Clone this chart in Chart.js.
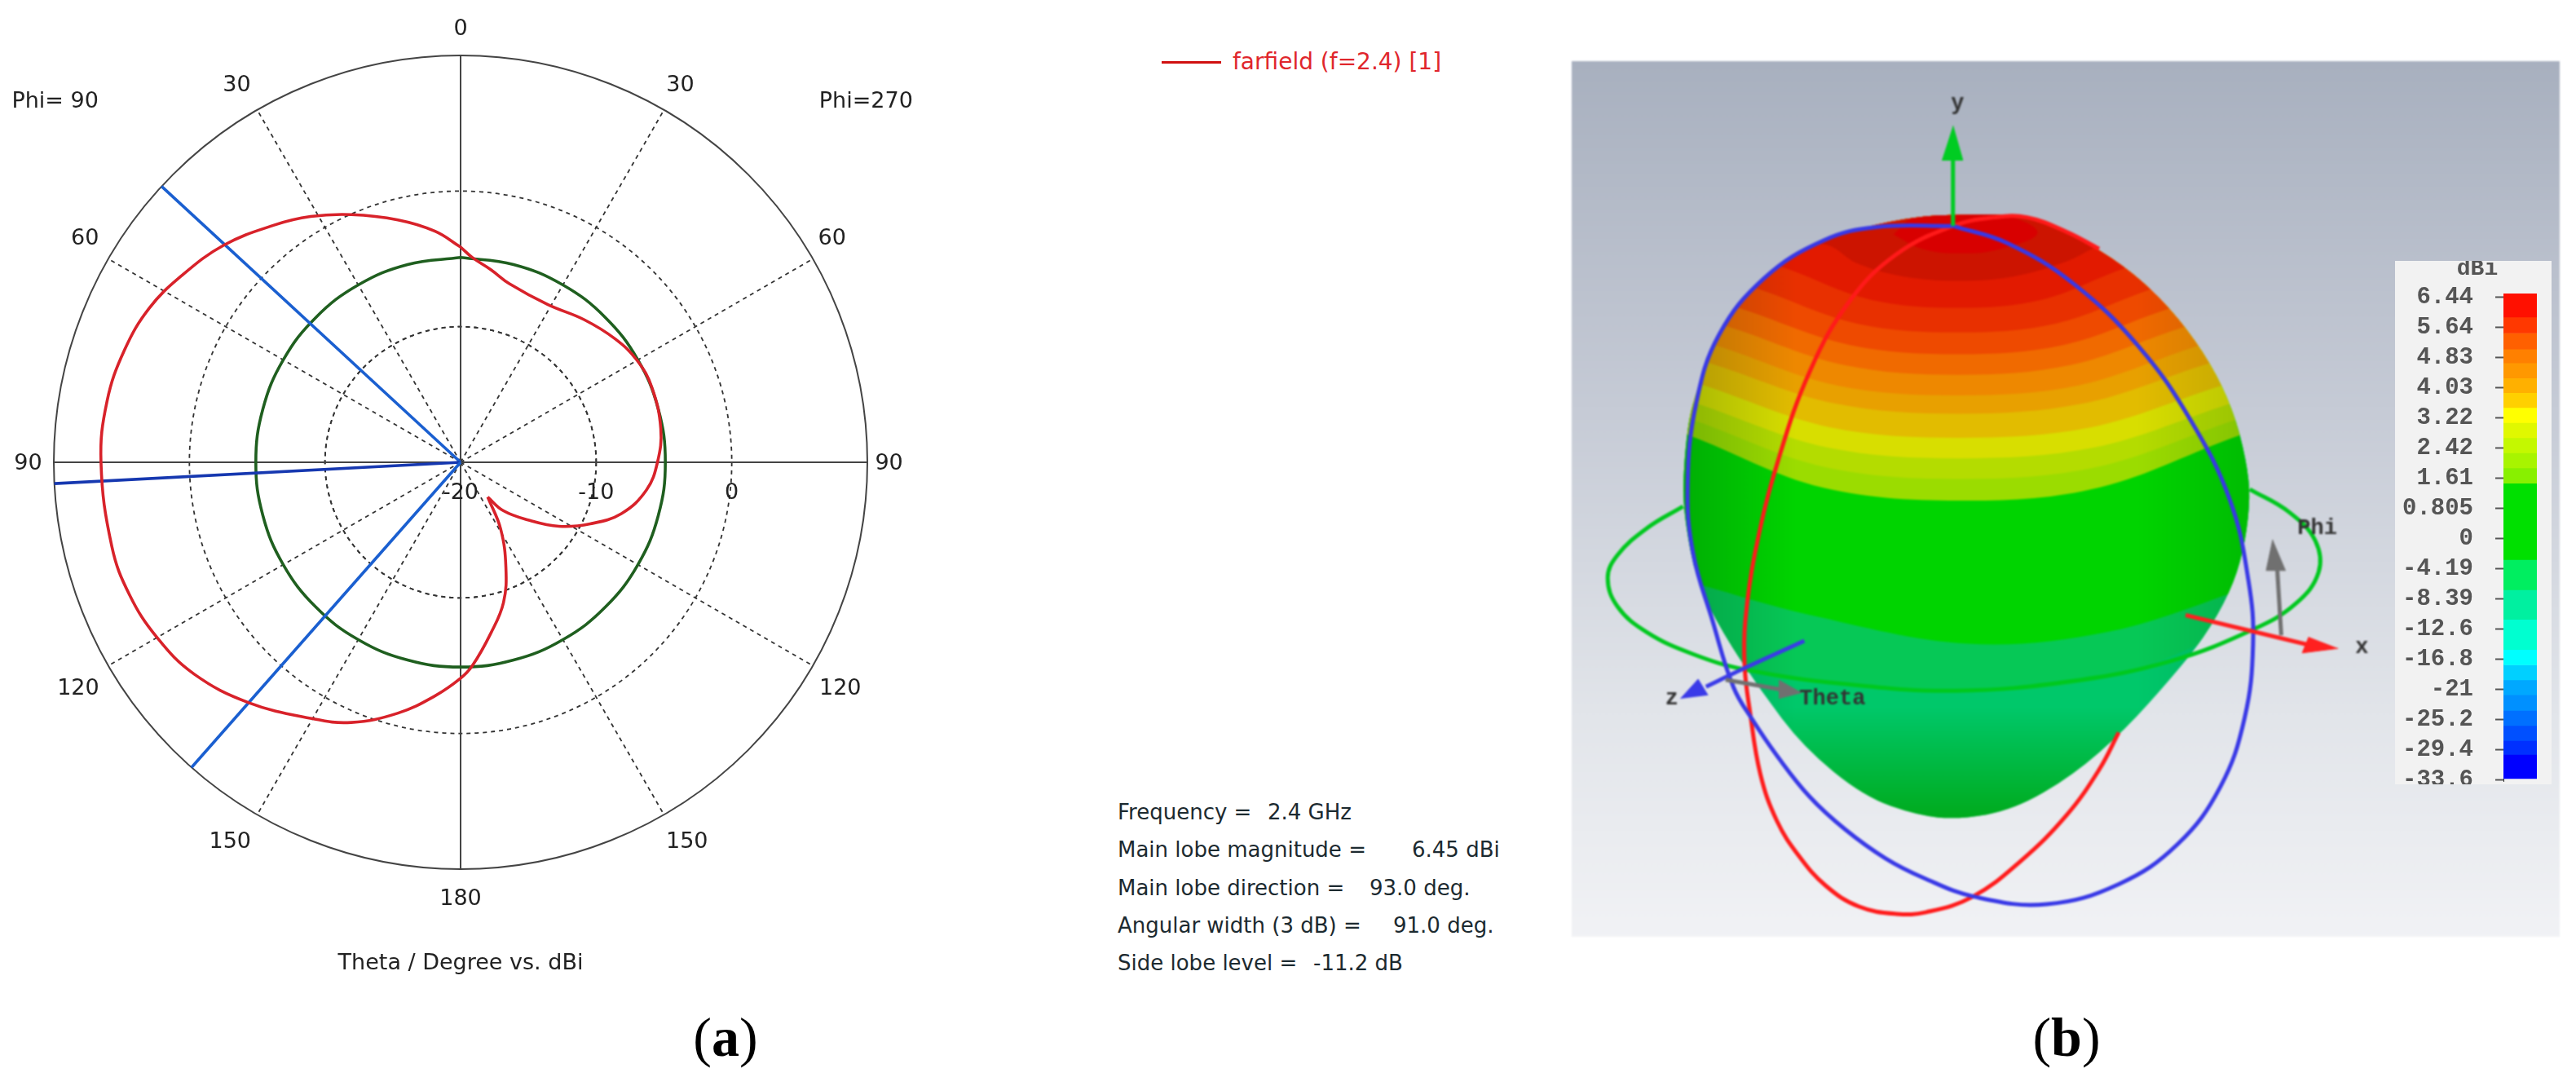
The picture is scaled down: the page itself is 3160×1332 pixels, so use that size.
<!DOCTYPE html>
<html>
<head>
<meta charset="utf-8">
<title>farfield</title>
<script src="https://cdn.jsdelivr.net/npm/chart.js@4/dist/chart.umd.min.js"></script>
<style>
  html, body { margin: 0; background: #fff; width: 3160px; height: 1332px; overflow: hidden; }
  canvas { position: absolute; }
  #polar { left: 0; top: 0; }
  #lobe { left: 1928px; top: 75px; filter: blur(0.8px);
    background: linear-gradient(#a8b0bf 0%, #c6cbd6 40%, #e2e5ea 75%, #f1f2f5 100%); }
  #bar { left: 2938px; top: 320px; background: #f2f2f2; filter: blur(0.6px); }
  .t { position: absolute; white-space: pre; font: 26px "DejaVu Sans", sans-serif; color: #1c2a30; line-height: 1; }
  .legend { font-size: 28px; }
  .cap { position: absolute; font: 68px "Liberation Serif", serif; color: #000; line-height: 1; transform: translate(-50%, -50%); }
  #legendLine { position: absolute; left: 1425px; top: 75px; width: 73px; height: 3px; background: #d01010; }
</style>
</head>
<body>
<canvas id="polar" width="1240" height="1332"></canvas>
<canvas id="lobe" width="1212" height="1074"></canvas>
<canvas id="bar" width="192" height="642"></canvas>
<div id="legendLine"></div>
<div id="notes"></div>
<script>
/* Farfield cut (a) and 3D pattern (b). */

// (a) polar cut: theta in degrees, 0 at top, going through 90 on the left
const farfieldTheta = [0, 6.3, 14.5, 23.8, 31.4, 38.2, 47.5, 56.4, 63.7, 71.5, 80.2, 90, 103.6, 111.8, 120, 128.5, 138.6, 149.6, 157.2, 166, 173.8, 180, 183.3, 190, 197, 203.3, 211, 218, 221.4, 229.5, 237, 244.6, 252.3, 261.5, 270, 279.5, 291.4, 300, 308.5, 319, 331, 344.7, 351, 356.7, 360];
const farfieldGain = [-4.13, -2.86, -1.54, -0.04, 1.23, 2.25, 3.69, 4.77, 5.62, 6.13, 6.46, 6.52, 6.46, 6.3, 5.85, 5.1, 3.63, 1.89, 0.81, -0.94, -2.68, -4.07, -4.97, -7.19, -9.18, -11.55, -14.26, -16.75, -15.25, -13.45, -11.34, -9.42, -7.55, -6.14, -5.48, -5.03, -4.85, -4.97, -5.41, -6.08, -6.71, -6.35, -5.63, -4.88, -4.13];
const cuspIndex = 27;
const contourTheta = [0, 15, 30, 45, 60, 75, 90, 105, 120, 135, 150, 165, 180, 195, 210, 225, 240, 255, 270, 285, 300, 315, 330, 345, 360];
const contourGain = -4.9;
const beamTheta = [47.3, 93, 138.6];
const gainMin = -20;
const gainMax = 10;
const ringLevels = [-10, 0];
const ringLabels = ['-20', '-10', '0'];
const spokeTheta = [30, 60, 120, 150, 210, 240, 300, 330];
const axisTheta = [0, 90, 180, 270];
const angleLabels = ['0', '30', '60', '90', '120', '150', '180', '150', '120', '90', '60', '30'];
const angleLabelX = [0, -16.5, -27.7, -31.9, -28.2, -17, 0, 16.7, 28, 31.6, 27.4, 16.2];
const angleLabelY = [31.9, 27.8, 16.5, -0.1, -16.7, -28, -32.2, -28, -16.7, -0.1, 16.5, 27.8];

// legend and result block
const legendText = 'farfield (f=2.4) [1]';
const statNames = ['Frequency =', 'Main lobe magnitude =', 'Main lobe direction =', 'Angular width (3 dB) =', 'Side lobe level ='];
const statValues = ['2.4 GHz', '6.45 dBi', '93.0 deg.', '91.0 deg.', '-11.2 dB'];

// (b) lobe drawing, in units of the panel picture
const lobeOutline = [[620, 290], [720, 290], [790, 320], [860, 365], [920, 420], [975, 490], [1020, 570], [1050, 650], [1068, 740], [1070, 800], [1060, 880], [1040, 950], [1000, 1030], [950, 1100], [880, 1190], [800, 1270], [710, 1330], [626, 1347], [563, 1340], [481, 1307], [389, 1221], [323, 1121], [265, 1020], [225, 930], [207, 820], [205, 750], [212, 660], [222, 610], [256, 500], [320, 400], [400, 342], [480, 312], [560, 294], [620, 290]];
const bandColors = ['#00c86a', '#06c856', '#00d400', '#9bdc00', '#b4dc00', '#d8de00', '#e2bc00', '#e8a000', '#ee8800', '#f06a00', '#ee4a00', '#e83000', '#e21a00', '#cc1400'];
const bandEdges = [
  [[100, 1500], [1400, 1500]],
  [[240, 1060], [300, 1085], [450, 1110], [640, 1125], [850, 1100], [985, 1045], [1050, 1000]],
  [[190, 925], [225, 935], [400, 990], [640, 1040], [850, 1020], [1045, 950], [1100, 920]],
  [[170, 665], [212, 675], [418, 767], [640, 790], [840, 767], [1056, 675], [1100, 665]],
  [[180, 638], [218, 648], [421, 731], [630, 752], [837, 731], [1050, 648], [1090, 638]],
  [[190, 610], [225, 620], [425, 697], [625, 716], [833, 697], [1042, 620], [1080, 610]],
  [[200, 578], [235, 588], [430, 662], [625, 680], [827, 662], [1030, 588], [1070, 578]],
  [[210, 540], [247, 550], [436, 620], [625, 638], [816, 620], [1008, 550], [1050, 540]],
  [[220, 510], [258, 520], [441, 589], [625, 606], [807, 589], [990, 520], [1030, 510]],
  [[240, 477], [277, 487], [451, 553], [625, 570], [796, 553], [968, 487], [1010, 477]],
  [[260, 445], [295, 455], [460, 518], [625, 534], [785, 518], [945, 455], [985, 445]],
  [[285, 410], [320, 420], [472, 481], [625, 496], [772, 481], [920, 420], [960, 410]],
  [[325, 373], [360, 383], [492, 439], [625, 453], [752, 439], [880, 383], [920, 373]],
  [[400, 340], [430, 345], [470, 375], [540, 398], [625, 406], [710, 398], [790, 372], [840, 345], [870, 340]],
];
const lobeCap = [[526, 325], [570, 350], [630, 358], [690, 350], [746, 322], [700, 292], [620, 280], [560, 292], [526, 325]];
const blueOrbit = [[617, 310], [700, 340], [800, 410], [900, 520], [980, 650], [1040, 790], [1068, 930], [1075, 1040], [1062, 1170], [1025, 1290], [960, 1390], [870, 1460], [760, 1495], [650, 1482], [572, 1449], [514, 1415], [452, 1364], [398, 1307], [348, 1235], [311, 1173], [282, 1116], [250, 1000], [220, 880], [212, 760], [225, 620], [260, 500], [330, 400], [420, 335], [500, 312], [617, 310]];
const redOrbit = [[840, 350], [790, 320], [730, 295], [680, 295], [617, 310], [530, 360], [460, 440], [400, 560], [350, 720], [315, 880], [300, 1000], [299, 1080], [307, 1158], [323, 1268], [348, 1349], [382, 1411], [423, 1463], [473, 1499], [531, 1512], [576, 1509], [647, 1482], [720, 1420], [790, 1340], [840, 1260], [870, 1195]];
const greenOrbit = [[205, 800], [150, 838], [105, 885], [90, 925], [105, 975], [150, 1020], [220, 1058], [300, 1085], [450, 1110], [620, 1122], [800, 1105], [950, 1070], [1075, 1015], [1140, 970], [1175, 915], [1170, 860], [1130, 810], [1070, 770]];
const axisLines = [
  { color: '#00cc22', pts: [[617, 310], [617, 190]] },
  { color: '#ff2020', pts: [[972, 990], [1160, 1042]] },
  { color: '#3a3ae8', pts: [[390, 1035], [300, 1082], [240, 1115]] },
  { color: '#707070', pts: [[270, 1103], [355, 1120]] },
  { color: '#707070', pts: [[1118, 1025], [1112, 912]] },
];
const axisHeads = [
  { color: '#00cc22', pts: [[617, 135], [632, 195], [600, 195]] },
  { color: '#ff2020', pts: [[1205, 1048], [1150, 1056], [1160, 1028]] },
  { color: '#3a3ae8', pts: [[201, 1136], [228, 1102], [243, 1130]] },
  { color: '#707070', pts: [[386, 1126], [352, 1104], [352, 1136]] },
  { color: '#707070', pts: [[1105, 858], [1095, 912], [1125, 912]] },
];
const panelLabels = [['y', 624, 97], ['x', 1241, 1047], ['z', 188, 1137], ['Theta', 433, 1137], ['Phi', 1173, 838]];

// colour bar
const barTicks = ['6.44', '5.64', '4.83', '4.03', '3.22', '2.42', '1.61', '0.805', '0', '-4.19', '-8.39', '-12.6', '-16.8', '-21', '-25.2', '-29.4', '-33.6'];
const barEdges = [-0.12, 0.66, 1.19, 1.72, 2.18, 2.68, 3.17, 3.66, 4.16, 4.66, 5.16, 5.66, 6.17, 8.70, 9.70, 10.68, 11.68, 12.19, 12.69, 13.18, 13.70, 14.2, 14.7, 15.16, 15.96];
const barColors = ['#ff1000', '#ff3800', '#ff6000', '#ff8000', '#ff9800', '#ffb000', '#ffd000', '#ffff00', '#e0f800', '#c4f800', '#a8f400', '#88f000', '#00e000', '#00ee60', '#00f0a0', '#00ffd0', '#00ffff', '#00d0ff', '#00a8ff', '#0090ff', '#0070ff', '#0050ff', '#0030ff', '#0000ff'];

Chart.defaults.animation = false;
Chart.defaults.responsive = false;
Chart.defaults.devicePixelRatio = 1;
Chart.defaults.plugins.legend.display = false;
Chart.defaults.plugins.tooltip.enabled = false;

const rad = (d) => d * Math.PI / 180;
// gain at theta -> cartesian point, the radial scale starts at gainMin
const toXY = (theta, gain) => ({
  x: -(gain - gainMin) * Math.sin(rad(theta)),
  y: (gain - gainMin) * Math.cos(rad(theta)),
});
const polyline = (pts) => pts.map(([x, y]) => ({ x, y }));

const outerR = gainMax - gainMin;

const polarGrid = {
  id: 'polarGrid',
  beforeDatasetsDraw(chart) {
    const { ctx, scales: { x, y } } = chart;
    const cx = x.getPixelForValue(0);
    const cy = y.getPixelForValue(0);
    const px = (v) => Math.abs(x.getPixelForValue(v) - cx);
    ctx.save();
    ctx.strokeStyle = '#333';
    ctx.lineWidth = 1.8;
    ctx.setLineDash([5, 5]);
    ringLevels.concat(gainMin + 10).forEach((lv) => {
      ctx.beginPath();
      ctx.arc(cx, cy, px(lv - gainMin), 0, Math.PI * 2);
      ctx.stroke();
    });
    spokeTheta.forEach((t) => {
      const p = toXY(t, gainMax);
      ctx.beginPath();
      ctx.moveTo(cx, cy);
      ctx.lineTo(x.getPixelForValue(p.x), y.getPixelForValue(p.y));
      ctx.stroke();
    });
    ctx.setLineDash([]);
    ctx.strokeStyle = '#444';
    ctx.lineWidth = 2;
    ctx.beginPath();
    ctx.arc(cx, cy, px(outerR), 0, Math.PI * 2);
    ctx.stroke();
    axisTheta.forEach((t) => {
      const p = toXY(t, gainMax);
      ctx.beginPath();
      ctx.moveTo(cx, cy);
      ctx.lineTo(x.getPixelForValue(p.x), y.getPixelForValue(p.y));
      ctx.stroke();
    });
    ctx.restore();
  },
  afterDatasetsDraw(chart) {
    const { ctx, scales: { x, y } } = chart;
    const text = (s, dx, dy) => ctx.fillText(s, x.getPixelForValue(dx), y.getPixelForValue(dy));
    ctx.save();
    ctx.fillStyle = '#222';
    ctx.font = '27px "DejaVu Sans", sans-serif';
    ctx.textAlign = 'center';
    ctx.textBaseline = 'middle';
    angleLabels.forEach((s, i) => text(s, angleLabelX[i], angleLabelY[i]));
    ringLabels.forEach((s, i) => text(s, i * 10, -2.3));
    text('Phi= 90', -29.9, 26.6);
    text('Phi=270', 29.9, 26.6);
    text('Theta / Degree vs. dBi', 0, -37);
    ctx.restore();
  },
};

const farfieldXY = farfieldTheta.map((t, i) => toXY(t, farfieldGain[i]));

new Chart(document.getElementById('polar'), {
  type: 'scatter',
  data: {
    datasets: [
      { data: contourTheta.map((t) => toXY(t, contourGain)), borderColor: '#1f5f1f', tension: 0.4 },
      ...beamTheta.map((t, i) => ({
        data: [toXY(t, gainMin), toXY(t, gainMax)],
        borderColor: i === 1 ? '#1638b0' : '#1a5fd0',
      })),
      { data: farfieldXY.slice(0, cuspIndex + 1), borderColor: '#d8222a', tension: 0.4 },
      { data: farfieldXY.slice(cuspIndex), borderColor: '#d8222a', tension: 0.4 },
    ].map((d, i, all) => ({ ...d, showLine: true, pointRadius: 0, borderWidth: 3.6, order: all.length - i, clip: false })),
  },
  options: {
    layout: { padding: { left: 66, top: 68, right: 176, bottom: 266 } },
    scales: {
      x: { display: false, min: -30, max: 30 },
      y: { display: false, min: -30, max: 30 },
    },
  },
  plugins: [polarGrid],
});

// dark edge of the lobe, left and right then towards the tip
function shadeColor(horizontal) {
  return (c) => {
    const { ctx, scales: { x, y } } = c.chart;
    const a = horizontal ? x.getPixelForValue(205) : y.getPixelForValue(1150);
    const b = horizontal ? x.getPixelForValue(1070) : y.getPixelForValue(1348);
    if (!isFinite(a) || !isFinite(b)) return 'rgba(0,0,0,0)';
    const g = horizontal ? ctx.createLinearGradient(a, 0, b, 0) : ctx.createLinearGradient(0, a, 0, b);
    if (horizontal) {
      g.addColorStop(0, 'rgba(0,40,20,0.22)');
      g.addColorStop(0.2, 'rgba(0,40,20,0)');
      g.addColorStop(0.8, 'rgba(0,40,20,0)');
      g.addColorStop(1, 'rgba(0,40,20,0.14)');
    } else {
      g.addColorStop(0, 'rgba(0,160,0,0)');
      g.addColorStop(1, 'rgba(0,160,0,0.75)');
    }
    return g;
  };
}

// the bands only show inside the lobe outline, the orbits do not
const lobeDatasets = [
  ...bandEdges.map((edge, i) => ({
    data: polyline([...edge, [1540, 24], [38, 24]]),
    backgroundColor: bandColors[i], fill: 'shape', borderWidth: 0, tension: 0.35,
  })),
  { data: polyline(lobeCap), backgroundColor: '#d80000', fill: 'shape', borderWidth: 0, tension: 0.4 },
  { data: polyline([[100, 24], [1400, 24], [1400, 1500], [100, 1500]]), fill: 'shape', borderWidth: 0, backgroundColor: shadeColor(false) },
  { data: polyline([[100, 24], [1400, 24], [1400, 1500], [100, 1500]]), fill: 'shape', borderWidth: 0, backgroundColor: shadeColor(true) },
];
const wireStart = lobeDatasets.length;
const wireDatasets = [
  { data: polyline(greenOrbit), borderColor: '#00c81e', borderWidth: 5, tension: 0.4 },
  { data: polyline(redOrbit), borderColor: '#ff1a1a', borderWidth: 5, tension: 0.4 },
  { data: polyline(blueOrbit), borderColor: '#3838e6', borderWidth: 5, tension: 0.4 },
  ...axisLines.map((a) => ({ data: polyline(a.pts), borderColor: a.color, borderWidth: 5, tension: 0.3 })),
  ...axisHeads.map((a) => ({ data: polyline(a.pts), borderColor: a.color, borderWidth: 1, backgroundColor: a.color, fill: 'shape' })),
];

const lobeClip = {
  id: 'lobeClip',
  beforeDatasetsDraw(chart) {
    const { ctx, scales: { x, y } } = chart;
    const p = lobeOutline.map(([a, b]) => [x.getPixelForValue(a), y.getPixelForValue(b)]);
    ctx.save();
    ctx.beginPath();
    ctx.moveTo((p[0][0] + p[1][0]) / 2, (p[0][1] + p[1][1]) / 2);
    for (let i = 1; i < p.length - 1; i++) {
      ctx.quadraticCurveTo(p[i][0], p[i][1], (p[i][0] + p[i + 1][0]) / 2, (p[i][1] + p[i + 1][1]) / 2);
    }
    ctx.quadraticCurveTo(p[0][0], p[0][1], (p[0][0] + p[1][0]) / 2, (p[0][1] + p[1][1]) / 2);
    ctx.clip();
  },
  beforeDatasetDraw(chart, args) {
    if (args.index === wireStart) chart.ctx.restore();
  },
  afterDatasetsDraw(chart) {
    const { ctx, scales: { x, y } } = chart;
    ctx.save();
    ctx.fillStyle = '#333';
    ctx.font = 'bold 27px "Liberation Mono", monospace';
    ctx.textAlign = 'center';
    ctx.textBaseline = 'middle';
    panelLabels.forEach(([s, a, b]) => ctx.fillText(s, x.getPixelForValue(a), y.getPixelForValue(b)));
    ctx.restore();
  },
};

new Chart(document.getElementById('lobe'), {
  type: 'scatter',
  data: {
    datasets: [...lobeDatasets, ...wireDatasets].map((d, i, all) => ({ ...d, showLine: true, pointRadius: 0, order: all.length - i })),
  },
  options: {
    scales: {
      x: { display: false, min: 35, max: 1543 },
      y: { display: false, min: 22, max: 1552, reverse: true },
    },
  },
  plugins: [lobeClip],
});

new Chart(document.getElementById('bar'), {
  type: 'bar',
  data: {
    labels: ['dBi'],
    datasets: barColors.map((c, i) => ({
      data: [[barEdges[i], barEdges[i + 1]]],
      backgroundColor: c,
      barPercentage: 1,
      categoryPercentage: 1,
      grouped: false,
    })),
  },
  options: {
    layout: { padding: { top: 40, right: 18, bottom: 4, left: 0 } },
    scales: {
      x: { display: false },
      y: {
        reverse: true,
        min: barEdges[0],
        max: 16.04,
        border: { color: '#333' },
        grid: { display: false, drawTicks: true },
        afterBuildTicks(s) { s.ticks = barTicks.map((_, i) => ({ value: i })); },
        afterFit(s) { s.width = 133; s.paddingTop = 0; s.paddingBottom = 0; },
        ticks: {
          autoSkip: false,
          color: '#555',
          padding: 29,
          font: { family: '"Liberation Mono", monospace', size: 29, weight: 'bold' },
          callback: (v) => barTicks[v],
        },
      },
    },
  },
  plugins: [{
    id: 'barExtras',
    afterDraw(chart) {
      const { ctx, chartArea, scales: { y } } = chart;
      ctx.save();
      ctx.strokeStyle = '#555';
      ctx.lineWidth = 2;
      barTicks.forEach((_, i) => {
        const py = y.getPixelForValue(i);
        ctx.beginPath();
        ctx.moveTo(chartArea.left - 10, py);
        ctx.lineTo(chartArea.left, py);
        ctx.stroke();
      });
      ctx.fillStyle = '#555';
      ctx.font = 'bold 28px "Liberation Mono", monospace';
      ctx.textAlign = 'center';
      ctx.textBaseline = 'middle';
      ctx.fillText(chart.data.labels[0], 101, 10);
      ctx.restore();
    },
  }],
});

// legend, result block and panel captions
function addText(cls, s, left, top, color) {
  const d = document.createElement('div');
  d.className = cls;
  d.textContent = s;
  d.style.left = left + 'px';
  d.style.top = top + 'px';
  if (color) d.style.color = color;
  document.getElementById('notes').appendChild(d);
}
const statTop = [983, 1029, 1076, 1122, 1168];
const statValueLeft = [1555, 1732, 1680, 1709, 1611];
addText('t legend', legendText, 1512, 62, '#e0262c');
statNames.forEach((s, i) => {
  addText('t', s, 1371, statTop[i]);
  addText('t', statValues[i], statValueLeft[i], statTop[i]);
});
['(a)', '(b)'].forEach((s, i) => {
  const d = document.createElement('div');
  d.className = 'cap';
  d.innerHTML = s.replace(/[ab]/, '<b>$&</b>');
  d.style.left = [890, 2535][i] + 'px';
  d.style.top = '1272px';
  document.getElementById('notes').appendChild(d);
});
</script>
</body>
</html>
